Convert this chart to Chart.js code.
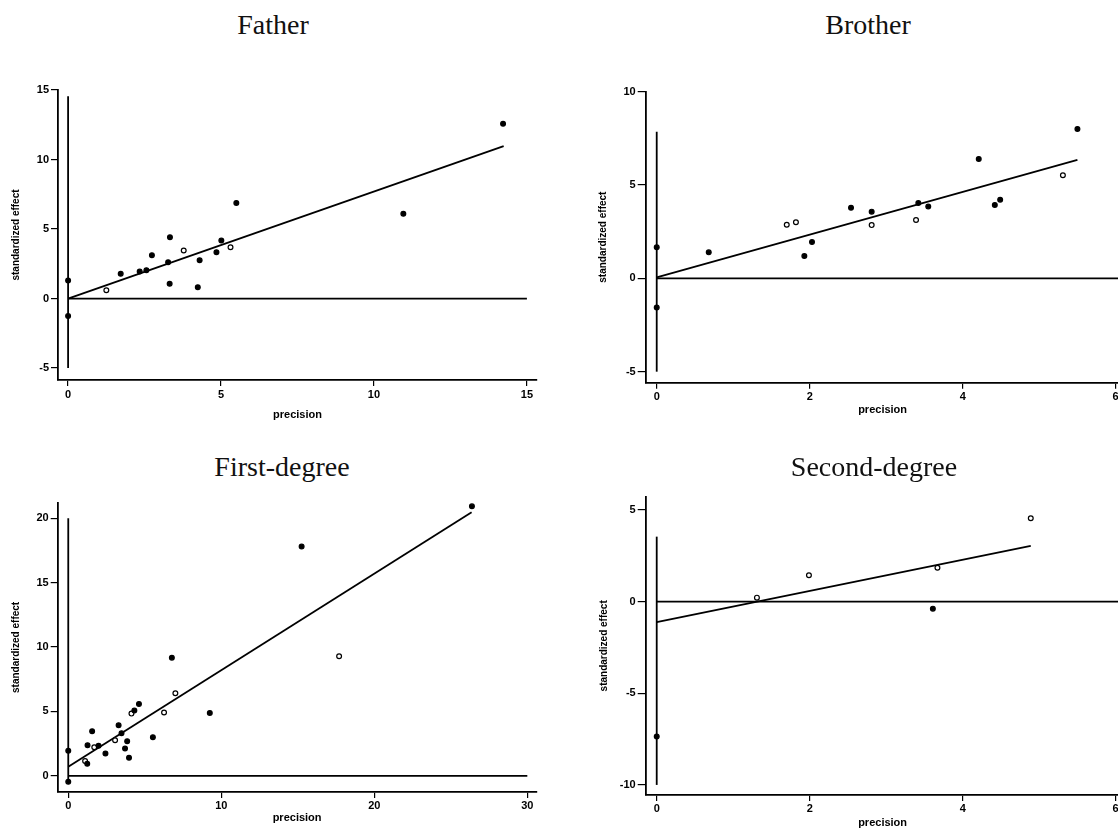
<!DOCTYPE html>
<html>
<head>
<meta charset="utf-8">
<script src="https://cdn.jsdelivr.net/npm/chart.js@4"></script>
<style>
  html, body { margin: 0; padding: 0; background: #fff; overflow: hidden; width: 1118px; height: 832px; }
  canvas { position: absolute; }
  .ttl { position: absolute; width: 300px; text-align: center; font-family: "Liberation Serif", serif; font-size: 28px; line-height: 28px; color: #111; }
</style>
</head>
<body>
<canvas id="father" width="560" height="370" style="left:0px;top:60px"></canvas>
<canvas id="brother" width="560" height="370" style="left:580px;top:60px"></canvas>
<canvas id="first" width="560" height="340" style="left:0px;top:490px"></canvas>
<canvas id="second" width="560" height="362" style="left:580px;top:470px"></canvas>
<div class="ttl" style="left:123px;top:11px">Father</div>
<div class="ttl" style="left:718px;top:11px">Brother</div>
<div class="ttl" style="left:132px;top:453px">First-degree</div>
<div class="ttl" style="left:724px;top:453px">Second-degree</div>
<script>
// Father
const fatherPrecision = [0, 0, 1.25, 1.72, 2.34, 2.56, 2.74, 3.33, 3.27, 3.32, 3.78, 4.3, 4.24, 4.85, 5.01, 5.31, 5.5, 10.96, 14.22];
const fatherEffect = [1.29, -1.26, 0.6, 1.78, 1.94, 2.04, 3.12, 4.41, 2.61, 1.06, 3.45, 2.76, 0.81, 3.33, 4.17, 3.69, 6.88, 6.1, 12.57];
const fatherHollow = [0, 0, 1, 0, 0, 0, 0, 0, 0, 0, 1, 0, 0, 0, 0, 1, 0, 0, 0];
const fatherFitX = [0, 14.24];
const fatherFitY = [0, 10.97];
const fatherZeroX = [0, 15];
const fatherSpikeY = [-5, 14.55];
const fatherXTicks = [0, 5, 10, 15];
const fatherYTicks = [-5, 0, 5, 10, 15];

// Brother
const brotherPrecision = [0, 0, 0.68, 1.70, 1.82, 1.93, 2.03, 2.54, 2.81, 2.81, 3.39, 3.42, 3.55, 4.21, 4.42, 4.49, 5.31, 5.5];
const brotherEffect = [1.66, -1.56, 1.39, 2.87, 3.0, 1.19, 1.94, 3.78, 3.57, 2.85, 3.12, 4.03, 3.84, 6.39, 3.93, 4.21, 5.52, 8.0];
const brotherHollow = [0, 0, 0, 1, 1, 0, 0, 0, 0, 1, 1, 0, 0, 0, 0, 0, 1, 0];
const brotherFitX = [0, 5.5];
const brotherFitY = [0.05, 6.34];
const brotherZeroX = [0, 6.05];
const brotherSpikeY = [-5, 7.85];
const brotherXTicks = [0, 2, 4, 6];
const brotherYTicks = [-5, 0, 5, 10];

// First-degree
const firstPrecision = [0, 0, 1.1, 1.24, 1.26, 1.56, 1.7, 1.98, 2.43, 3.06, 3.29, 3.48, 3.71, 3.85, 3.97, 4.13, 4.32, 4.62, 5.53, 6.26, 6.77, 7.0, 9.25, 15.25, 17.7, 26.38];
const firstEffect = [1.94, -0.47, 1.14, 0.93, 2.38, 3.46, 2.22, 2.33, 1.73, 2.76, 3.93, 3.31, 2.12, 2.69, 1.4, 4.83, 5.06, 5.58, 3.0, 4.91, 9.17, 6.41, 4.88, 17.8, 9.28, 20.93];
const firstHollow = [0, 0, 1, 0, 0, 0, 1, 0, 0, 1, 0, 0, 0, 0, 0, 1, 0, 0, 0, 1, 0, 1, 0, 0, 1, 0];
const firstFitX = [0, 26.36];
const firstFitY = [0.7, 20.47];
const firstZeroX = [0, 30];
const firstSpikeY = [-0.47, 20];
const firstXTicks = [0, 10, 20, 30];
const firstYTicks = [0, 5, 10, 15, 20];

// Second-degree
const secondPrecision = [0, 1.31, 1.99, 3.61, 3.67, 4.89];
const secondEffect = [-7.36, 0.22, 1.44, -0.38, 1.85, 4.55];
const secondHollow = [0, 1, 1, 0, 1, 1];
const secondFitX = [0, 4.89];
const secondFitY = [-1.11, 3.04];
const secondZeroX = [0, 6.05];
const secondSpikeY = [-10, 3.55];
const secondXTicks = [0, 2, 4, 6];
const secondYTicks = [-10, -5, 0, 5];

const tickFont = { family: 'Liberation Sans', weight: 'bold', size: 11 };

function lineSet(xs, ys) {
    return {
        data: xs.map((x, i) => ({ x: x, y: ys[i] })),
        showLine: true,
        clip: false,
        pointRadius: 0,
        borderColor: '#000',
        borderWidth: 1.8
    };
}

function panel(id, p) {
    new Chart(document.getElementById(id), {
        type: 'scatter',
        data: {
            datasets: [
                {
                    data: p.xs.map((x, i) => ({ x: x, y: p.ys[i] })),
                    clip: false,
                    pointRadius: 2.4,
                    pointBorderWidth: 1.2,
                    pointBorderColor: '#000',
                    pointBackgroundColor: p.hollow.map(h => h ? '#fff' : '#000')
                },
                lineSet(p.fitX, p.fitY),
                lineSet(p.zeroX, [0, 0]),
                lineSet([0, 0], p.spikeY)
            ]
        },
        options: {
            responsive: false,
            animation: false,
            layout: { padding: { top: p.padTop, right: p.padRight, left: 0, bottom: 0 } },
            plugins: { legend: { display: false }, tooltip: { enabled: false } },
            scales: {
                x: {
                    type: 'linear',
                    min: p.xMin,
                    max: p.xMax,
                    afterBuildTicks: s => { s.ticks = p.xTicks.map(v => ({ value: v })); },
                    afterFit: s => { s.height = p.xHeight; s.paddingLeft = 0; s.paddingRight = 0; },
                    grid: { drawOnChartArea: false, tickLength: 6, color: '#000', lineWidth: 1.2 },
                    border: { color: '#000', width: 1.8 },
                    ticks: { color: '#000', font: tickFont, padding: p.xTickPad, maxRotation: 0, autoSkip: false, callback: v => String(v) },
                    title: { display: true, text: 'precision', color: '#000', font: tickFont, padding: { top: 0, bottom: p.xTitlePad } }
                },
                y: {
                    type: 'linear',
                    min: p.yMin,
                    max: p.yMax,
                    afterBuildTicks: s => { s.ticks = p.yTicks.map(v => ({ value: v })); },
                    afterFit: s => { s.width = p.yWidth; s.paddingTop = 0; s.paddingBottom = 0; },
                    grid: { drawOnChartArea: false, tickLength: p.yTickLen, color: '#000', lineWidth: 1.2 },
                    border: { color: '#000', width: 1.8 },
                    ticks: { color: '#000', font: tickFont, padding: 2, autoSkip: false, callback: v => String(v) },
                    title: { display: true, text: 'standardized effect', color: '#000', font: { family: 'Liberation Sans', weight: 'bold', size: 10 }, padding: { top: p.yTitlePad, bottom: 0 } }
                }
            }
        }
    });
}

panel('father', {
    xs: fatherPrecision, ys: fatherEffect, hollow: fatherHollow,
    fitX: fatherFitX, fitY: fatherFitY, zeroX: fatherZeroX, spikeY: fatherSpikeY,
    xTicks: fatherXTicks, yTicks: fatherYTicks,
    xMin: -0.33, xMax: 15.33, yMin: -5.86, yMax: 15,
    padTop: 30, padRight: 23, xHeight: 50, yWidth: 58,
    xTickPad: 2, xTitlePad: 8.4, yTickLen: 7, yTitlePad: 10.7
});

panel('brother', {
    xs: brotherPrecision, ys: brotherEffect, hollow: brotherHollow,
    fitX: brotherFitX, fitY: brotherFitY, zeroX: brotherZeroX, spikeY: brotherSpikeY,
    xTicks: brotherXTicks, yTicks: brotherYTicks,
    xMin: -0.144, xMax: 6.05, yMin: -5.59, yMax: 10,
    padTop: 31.6, padRight: 20.5, xHeight: 47.3, yWidth: 65.7,
    xTickPad: 2, xTitlePad: 13.4, yTickLen: 8, yTitlePad: 17
});

panel('first', {
    xs: firstPrecision, ys: firstEffect, hollow: firstHollow,
    fitX: firstFitX, fitY: firstFitY, zeroX: firstZeroX, spikeY: firstSpikeY,
    xTicks: firstXTicks, yTicks: firstYTicks,
    xMin: -0.69, xMax: 30.6, yMin: -1.26, yMax: 21.2,
    padTop: 12.8, padRight: 23.5, xHeight: 38, yWidth: 57.7,
    xTickPad: 1, xTitlePad: 5.4, yTickLen: 7, yTitlePad: 10.7
});

panel('second', {
    xs: secondPrecision, ys: secondEffect, hollow: secondHollow,
    fitX: secondFitX, fitY: secondFitY, zeroX: secondZeroX, spikeY: secondSpikeY,
    xTicks: secondXTicks, yTicks: secondYTicks,
    xMin: -0.144, xMax: 6.05, yMin: -10.55, yMax: 5.73,
    padTop: 26.7, padRight: 20.5, xHeight: 37, yWidth: 65.7,
    xTickPad: 1, xTitlePad: 2.7, yTickLen: 8, yTitlePad: 18.6
});
</script>
</body>
</html>
